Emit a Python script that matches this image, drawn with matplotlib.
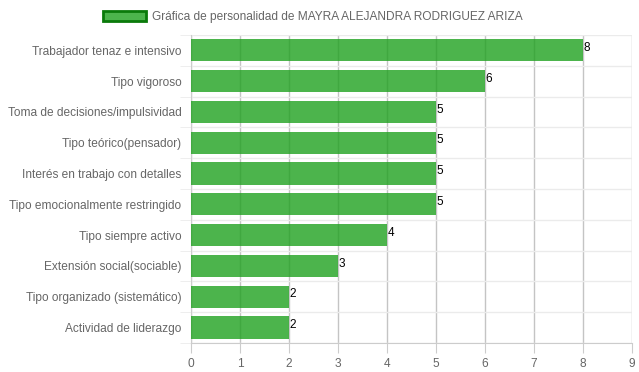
import matplotlib.pyplot as plt
from matplotlib.patches import Patch
import numpy as np

categories = [
    "Trabajador tenaz e intensivo",
    "Tipo vigoroso",
    "Toma de decisiones/impulsividad",
    "Tipo teórico(pensador)",
    "Interés en trabajo con detalles",
    "Tipo emocionalmente restringido",
    "Tipo siempre activo",
    "Extensión social(sociable)",
    "Tipo organizado (sistemático)",
    "Actividad de liderazgo",
]
values = [8, 6, 5, 5, 5, 5, 4, 3, 2, 2]
series_name = "Gráfica de personalidad de MAYRA ALEJANDRA RODRIGUEZ ARIZA"

plt.rcParams["font.family"] = ["Liberation Sans", "DejaVu Sans"]

fig = plt.figure(figsize=(6.39, 3.72), dpi=100)
ax = fig.add_axes([0.299, 0.078, 0.69, 0.828])

y = np.arange(len(categories))
bar_color = (0.12, 0.63, 0.12, 0.8)
ax.barh(y, values, height=0.72, color=bar_color, zorder=3)
for yi, v in zip(y, values):
    ax.text(v + 0.01, yi - 0.08, str(v), va="center", ha="left",
            fontsize=8.5, color="black", zorder=4)

ax.set_xlim(0, 9)
ax.set_ylim(len(categories) - 0.5, -0.5)
ax.set_xticks(range(10))
ax.set_yticks(y)
ax.set_yticklabels(categories)
ax.set_yticks(np.arange(-0.5, len(categories), 1), minor=True)

ax.grid(axis="x", color="#c4c4c4", linewidth=1, zorder=1)
ax.grid(axis="y", which="minor", color="#ebebeb", linewidth=1, zorder=1)
ax.tick_params(axis="x", colors="#cccccc", labelcolor="#666666", labelsize=8.6, length=7)
ax.tick_params(axis="y", which="major", length=0, labelcolor="#666666", labelsize=8.6, pad=7)
ax.tick_params(axis="y", which="minor", length=8, color="#ebebeb")
for s in ["top", "right"]:
    ax.spines[s].set_visible(False)
ax.spines["left"].set_color("#cccccc")
ax.spines["bottom"].set_color("#cccccc")

handle = Patch(facecolor=bar_color, edgecolor="#0a7a0a", linewidth=2)
fig.legend([handle], [series_name], loc="upper center", bbox_to_anchor=(0.49, 1.0),
           frameon=False, fontsize=8.6, labelcolor="#666666",
           handlelength=3.6, handleheight=1.0, handletextpad=0.5)

fig.savefig("out.png", dpi=100)
